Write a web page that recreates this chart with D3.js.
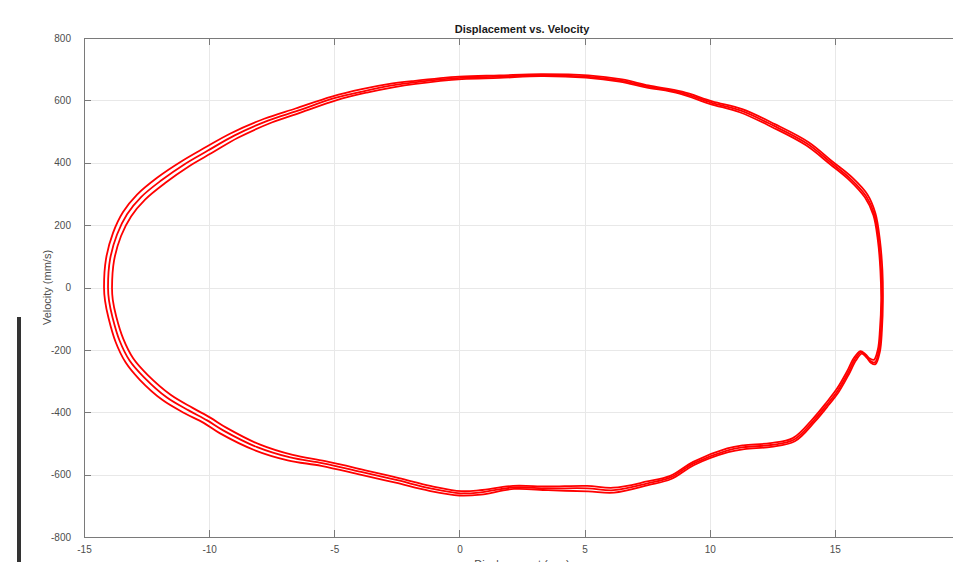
<!DOCTYPE html>
<html>

<head>
    <meta http-equiv="Content-Type" content="text/html;charset=utf-8">
    <title>Displacement vs. Velocity</title>
    <script type="text/javascript" src="https://d3js.org/d3.v7.min.js"></script>
    <style>
        * {
            margin: 0;
            padding: 0;
            box-sizing: border-box;
        }
        html,
        body {
            width: 953px;
            height: 562px;
            overflow: hidden;
            background: #fff;
        }
        text {
            font-family: "Liberation Sans", Arial, sans-serif;
            font-size: 10px;
            fill: #4d4d4d;
        }
        .title {
            font-weight: bold;
            font-size: 11px;
            fill: #1a1a1a;
        }
        .grid line {
            stroke: #e8e8e8;
            stroke-width: 1px;
            shape-rendering: crispEdges;
        }
        .axis path,
        .axis line {
            fill: none;
            stroke: #7a7a7a;
            shape-rendering: crispEdges;
        }
        path.cycle {
            fill: none;
            stroke: #ff0000;
            stroke-width: 1.8px;
        }
    </style>
</head>

<body>
    <script type="text/javascript">
        // tick values (the 20 mark sits just past the right edge)
        var xTicks = [-15, -10, -5, 0, 5, 10, 15];
        var yTicks = [-800, -600, -400, -200, 0, 200, 400, 600, 800];

        // three loops of [displacement mm, velocity mm/s]
        var cycleOuter = [
            [-14.2, 0], [-14.12, 92], [-13.84, 175], [-13.44, 242], [-12.88, 298], [-12.08, 352],
            [-11.1, 405], [-10.2, 447], [-9.15, 494], [-7.8, 541], [-6.55, 574], [-5.1, 612],
            [-3.9, 636], [-2.85, 652], [-1.85, 662], [0.0, 676], [1.6, 680], [3.25, 684],
            [5.15, 680], [6.5, 667], [7.55, 648], [8.9, 628], [10.1, 597], [11.3, 572],
            [12.6, 524], [13.95, 466], [14.9, 404], [15.7, 352], [16.3, 298], [16.62, 238],
            [16.8, 152], [16.9, 54], [16.92, -42], [16.88, -138], [16.8, -205], [16.62, -246],
            [16.45, -242], [16.28, -226], [16.08, -212], [15.84, -234], [15.56, -278], [15.16, -334],
            [14.76, -376], [14.2, -430], [13.4, -493], [12.46, -511], [11.38, -518], [10.74, -528],
            [9.38, -569], [8.46, -614], [7.54, -634], [6.18, -658], [5.14, -654], [3.54, -650],
            [2.18, -646], [0.86, -664], [0.0, -667], [-1.2, -652], [-2.55, -626], [-3.92, -601],
            [-5.52, -572], [-6.86, -554], [-8.2, -521], [-9.58, -467], [-10.22, -434], [-10.98, -403],
            [-11.86, -361], [-12.77, -296], [-13.34, -240], [-13.74, -174], [-14.02, -98], [-14.16, -42]
        ];
        var cycleMiddle = [
            [-14.04, 0], [-13.96, 90], [-13.68, 170], [-13.28, 235], [-12.72, 290], [-11.92, 343],
            [-10.95, 397], [-10.05, 439], [-9.0, 487], [-7.65, 535], [-6.45, 567], [-5.0, 607],
            [-3.8, 630], [-2.75, 647], [-1.8, 658], [0.05, 672], [1.6, 676], [3.25, 681],
            [5.1, 676], [6.45, 663], [7.5, 645], [8.85, 625], [10.05, 593], [11.25, 567],
            [12.55, 519], [13.9, 461], [14.85, 400], [15.65, 347], [16.25, 293], [16.58, 235],
            [16.75, 151], [16.85, 54], [16.88, -42], [16.84, -138], [16.76, -202], [16.6, -240],
            [16.42, -236], [16.25, -220], [16.05, -208], [15.8, -230], [15.52, -275], [15.12, -330],
            [14.72, -372], [14.16, -426], [13.36, -488], [12.44, -505], [11.36, -512], [10.72, -522],
            [9.36, -564], [8.44, -609], [7.52, -628], [6.16, -650], [5.12, -644], [3.52, -644],
            [2.16, -641], [0.84, -657], [0.04, -660], [-1.16, -644], [-2.48, -618], [-3.84, -593],
            [-5.44, -564], [-6.76, -545], [-8.08, -512], [-9.44, -458], [-10.08, -426], [-10.82, -394],
            [-11.7, -352], [-12.6, -288], [-13.18, -234], [-13.58, -170], [-13.86, -96], [-14.0, -42]
        ];
        var cycleInner = [
            [-13.88, 0], [-13.8, 86], [-13.52, 165], [-13.12, 228], [-12.56, 282], [-11.76, 335],
            [-10.8, 389], [-9.9, 431], [-8.85, 480], [-7.5, 529], [-6.35, 561], [-4.9, 601],
            [-3.7, 625], [-2.65, 642], [-1.75, 653], [0.1, 668], [1.6, 672], [3.25, 678],
            [5.05, 673], [6.4, 660], [7.45, 642], [8.8, 622], [10.0, 589], [11.2, 562],
            [12.5, 514], [13.85, 456], [14.8, 396], [15.6, 343], [16.2, 289], [16.54, 232],
            [16.72, 150], [16.82, 54], [16.85, -42], [16.8, -136], [16.72, -198], [16.56, -232],
            [16.4, -228], [16.22, -214], [16.02, -204], [15.76, -226], [15.48, -270], [15.08, -325],
            [14.68, -367], [14.12, -421], [13.32, -483], [12.42, -499], [11.34, -506], [10.7, -516],
            [9.34, -559], [8.42, -604], [7.5, -622], [6.14, -642], [5.1, -636], [3.5, -638],
            [2.14, -636], [0.82, -650], [0.08, -653], [-1.12, -637], [-2.42, -611], [-3.76, -586],
            [-5.36, -557], [-6.66, -537], [-7.96, -504], [-9.3, -450], [-9.94, -418], [-10.66, -386],
            [-11.54, -344], [-12.45, -281], [-13.03, -228], [-13.43, -165], [-13.71, -94], [-13.85, -40]
        ];
        var cycles = [cycleOuter, cycleMiddle, cycleInner];

        // plot box in page pixels; the right side of the box falls outside the window
        var boxLeft = 84, boxTop = 38, boxBottom = 537, boxRight = 960;

        var x = d3.scaleLinear().domain([-15, 20]).range([boxLeft, boxRight]);
        var y = d3.scaleLinear().domain([-800, 800]).range([boxBottom, boxTop]);

        var svg = d3.select("body").append("svg").attr("width", 953).attr("height", 562);

        // stray dark bar at the left edge of the screenshot
        svg.append("rect").attr("x", 17).attr("y", 317).attr("width", 4).attr("height", 245).attr("fill", "#333");

        var grid = svg.append("g").attr("class", "grid");
        grid.selectAll(".gx").data(xTicks.slice(1)).enter().append("line")
            .attr("x1", function (d) { return Math.round(x(d)) + 0.5; })
            .attr("x2", function (d) { return Math.round(x(d)) + 0.5; })
            .attr("y1", boxTop).attr("y2", boxBottom);
        grid.selectAll(".gy").data(yTicks.slice(1, -1)).enter().append("line")
            .attr("y1", function (d) { return Math.round(y(d)) + 0.5; })
            .attr("y2", function (d) { return Math.round(y(d)) + 0.5; })
            .attr("x1", boxLeft).attr("x2", boxRight);

        var line = d3.line()
            .x(function (d) { return x(d[0]); })
            .y(function (d) { return y(d[1]); })
            .curve(d3.curveCatmullRomClosed);

        svg.append("g").selectAll("path").data(cycles).enter().append("path")
            .attr("class", "cycle")
            .attr("d", function (d) { return line(d); });

        var plain = function (d) { return String(d); };

        // MATLAB style box with inward ticks
        svg.append("g").attr("class", "axis x")
            .attr("transform", "translate(0," + boxBottom + ")")
            .call(d3.axisBottom(x).tickValues(xTicks).tickSizeInner(-7).tickSizeOuter(0).tickPadding(13).tickFormat(plain));
        svg.append("g").attr("class", "axis x2")
            .attr("transform", "translate(0," + boxTop + ")")
            .call(d3.axisTop(x).tickValues(xTicks).tickSizeInner(-7).tickSizeOuter(0).tickFormat(""));
        svg.append("g").attr("class", "axis y")
            .attr("transform", "translate(" + boxLeft + ",0)")
            .call(d3.axisLeft(y).tickValues(yTicks).tickSizeInner(-7).tickSizeOuter(0).tickPadding(13).tickFormat(plain));

        svg.selectAll(".axis .domain").attr("stroke", "#7a7a7a");
        svg.selectAll(".axis text").attr("font-family", "'Liberation Sans', Arial, sans-serif").attr("font-size", 10).attr("fill", "#4d4d4d");
        svg.selectAll(".axis.x text").attr("dy", "0.3em");

        svg.append("text").attr("class", "title")
            .attr("x", (boxLeft + boxRight) / 2).attr("y", 33)
            .attr("text-anchor", "middle")
            .text("Displacement vs. Velocity");

        svg.append("text")
            .attr("x", (boxLeft + boxRight) / 2).attr("y", 568)
            .attr("text-anchor", "middle")
            .style("font-size", "11px")
            .text("Displacement (mm)");

        svg.append("text")
            .attr("transform", "translate(51," + y(0) + ") rotate(-90)")
            .attr("text-anchor", "middle")
            .style("font-size", "11px")
            .text("Velocity (mm/s)");
    </script>
</body>

</html>
